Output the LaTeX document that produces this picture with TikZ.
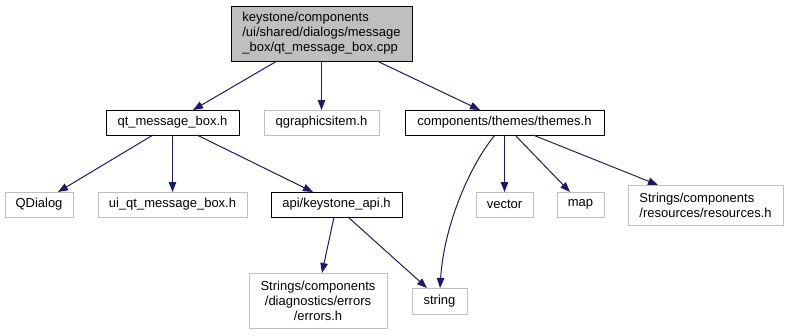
\documentclass[tikz,border=0pt]{standalone}
\usepackage{fontspec}
\setmainfont{Liberation Sans}
\usetikzlibrary{arrows.meta}
\definecolor{edgeblue}{HTML}{191970}
\definecolor{graybd}{HTML}{BFBFBF}
\begin{document}
\begin{tikzpicture}[x=1pt,y=-1pt,
  every node/.style={font=\fontsize{13}{15}\selectfont, inner sep=0pt, outer sep=0pt, line width=1pt},
  boxdark/.style={draw=black, fill=white},
  boxlight/.style={draw=graybd, fill=white},
  boxroot/.style={draw=black, fill=graybd},
  edge/.style={draw=edgeblue, line width=1pt, -{Triangle[length=10pt,width=7.5pt]}}]
\useasboundingbox (0,0) rectangle (789,335);
\node[boxroot, minimum width=181pt, minimum height=55pt, align=left] (root) at (321.5,33.5)
  {keystone/components\\/ui/shared/dialogs/message\\\_box/qt\_message\_box.cpp};
\node[boxdark, minimum width=133pt, minimum height=25pt] (qmb) at (172.5,122.5) {qt\_message\_box.h};
\node[boxlight, minimum width=115pt, minimum height=25pt] (qgi) at (321.5,122.5) {qgraphicsitem.h};
\node[boxdark, minimum width=199pt, minimum height=25pt] (themes) at (504.5,122.5) {components/themes/themes.h};
\node[boxlight, minimum width=68pt, minimum height=25pt] (qdialog) at (39,204.5) {QDialog};
\node[boxlight, minimum width=149pt, minimum height=25pt] (ui) at (172.5,204.5) {ui\_qt\_message\_box.h};
\node[boxdark, minimum width=131pt, minimum height=25pt] (api) at (336.5,204.5) {api/keystone\_api.h};
\node[boxlight, minimum width=138pt, minimum height=55pt, align=center] (errors) at (318,300.5)
  {Strings/components\\/diagnostics/errors\\/errors.h};
\node[boxlight, minimum width=55pt, minimum height=26pt] (string) at (439.5,301) {string};
\node[boxlight, minimum width=57pt, minimum height=25pt] (vector) at (504.5,204.5) {vector};
\node[boxlight, minimum width=47pt, minimum height=25pt] (map) at (580.5,204.5) {map};
\node[boxlight, minimum width=155pt, minimum height=40pt, align=left] (res) at (705.5,205)
  {Strings/components\\/resources/resources.h};
\draw[edge] ([xshift=-44.5pt]root.south) -- ([xshift=20.5pt]qmb.north);
\draw[edge] (root.south) -- (qgi.north);
\draw[edge] ([xshift=55.5pt]root.south) -- ([xshift=-24.5pt]themes.north);
\draw[edge] ([xshift=-19.5pt]qmb.south) -- ([xshift=19pt]qdialog.north);
\draw[edge] (qmb.south) -- (ui.north);
\draw[edge] ([xshift=24.5pt]qmb.south) -- ([xshift=-23.5pt]api.north);
\draw[edge] ([xshift=-2.5pt]api.south) -- ([xshift=4pt]errors.north);
\draw[edge] ([xshift=11.5pt]api.south) -- ([xshift=-12.5pt]string.north);
\draw[edge] ([xshift=-9.5pt]themes.south) .. controls (470,165) and (444,225) .. ([xshift=0.5pt]string.north);
\draw[edge] (themes.south) -- (vector.north);
\draw[edge] ([xshift=10.5pt]themes.south) -- ([xshift=-10.5pt]map.north);
\draw[edge] ([xshift=28.5pt]themes.south) -- ([xshift=-47.5pt]res.north);
\end{tikzpicture}
\end{document}
